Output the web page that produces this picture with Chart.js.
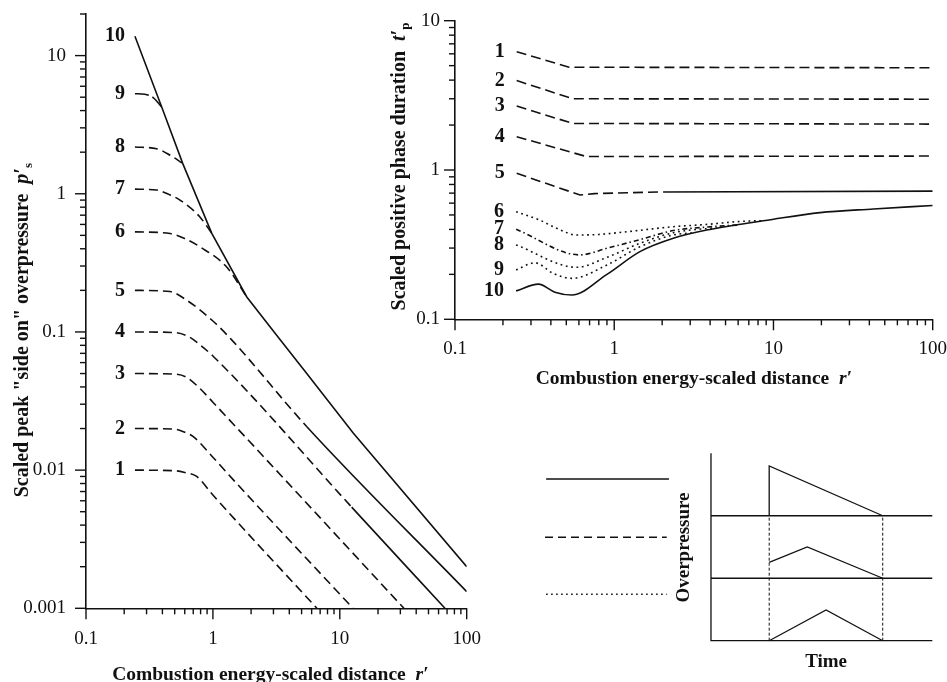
<!DOCTYPE html>
<html>
<head>
<meta charset="utf-8">
<title>Blast curves: scaled overpressure and positive phase duration</title>
<script src="https://cdn.jsdelivr.net/npm/chart.js@4.4.1/dist/chart.umd.min.js"></script>
<style>
  html, body { margin: 0; padding: 0; background: #fff; }
  #wrap { position: relative; width: 947px; height: 682px; overflow: hidden; background: #fff; }
  #wrap canvas { position: absolute; left: 0; top: 0; }
</style>
</head>
<body>
<div id="wrap">
  <canvas id="pressure" width="947" height="682"></canvas>
  <canvas id="duration" width="947" height="682"></canvas>
  <canvas id="waves" width="947" height="682"></canvas>
</div>
<script>
// ---- curve numbers (blast strength 1 = weakest ... 10 = detonation) ----
const curveNames = ['1', '2', '3', '4', '5', '6', '7', '8', '9', '10'];

// ---- scaled side-on peak overpressure p's versus scaled distance r'  [r', p's] ----
const ps1  = [[0.243, 0.01], [0.5, 0.0099], [0.6, 0.0096], [0.745, 0.009], [1.0, 0.0066], [6.6, 0.001]];
const ps2  = [[0.243, 0.02], [0.5, 0.0198], [0.6, 0.0188], [0.7, 0.0175], [1.0, 0.0124], [1.45, 0.0085], [12.7, 0.001]];
const ps3  = [[0.243, 0.05], [0.5, 0.0495], [0.62, 0.047], [0.79, 0.039], [1.0, 0.031], [32, 0.001]];
const ps4  = [[0.243, 0.1], [0.5, 0.099], [0.65, 0.092], [0.8, 0.08], [1.0, 0.067], [12.4, 0.0054], [67.4, 0.001]];
const ps5  = [[0.243, 0.2], [0.46, 0.196], [0.62, 0.17], [1.0, 0.12], [1.4, 0.088], [5.5, 0.0206], [100, 0.00132]];
const ps6  = [[0.243, 0.53], [0.46, 0.516], [0.6, 0.474], [0.79, 0.413], [1.28, 0.296], [1.85, 0.179]];
const ps7  = [[0.243, 1.08], [0.36, 1.065], [0.45, 0.99], [0.55, 0.9], [0.79, 0.68], [0.98, 0.517]];
const ps8  = [[0.243, 2.18], [0.36, 2.12], [0.46, 1.9], [0.578, 1.66]];
const ps9  = [[0.243, 5.3], [0.29, 5.25], [0.34, 4.95], [0.395, 4.25]];
const ps10 = [[0.243, 13.8], [0.395, 4.25], [0.578, 1.66], [0.98, 0.517], [1.85, 0.179], [3.18, 0.0945], [5.49, 0.05], [12.8, 0.0185], [100, 0.002]];
// distance beyond which each pressure wave has steepened into a shock (null = never)
const psShockFrom = [null, null, null, 12.4, 5.5, null, null, null, null, 0.243];

// ---- scaled positive phase duration t'p versus scaled distance r'  [r', t'p] ----
const tp1  = [[0.244, 6.2], [0.52, 4.88], [100, 4.84]];
const tp2  = [[0.244, 3.97], [0.55, 3.0], [100, 2.98]];
const tp3  = [[0.244, 2.68], [0.55, 2.05], [100, 2.03]];
const tp4  = [[0.244, 1.67], [0.67, 1.23], [100, 1.24]];
const tp5  = [[0.244, 0.95], [0.61, 0.68], [0.75, 0.695], [2.03, 0.713], [100, 0.722]];
const tp6  = [[0.242, 0.526], [0.34, 0.462], [0.435, 0.407], [0.58, 0.367], [0.8, 0.37], [1.2, 0.386], [2.35, 0.417], [3.81, 0.432], [6.17, 0.452], [8.5, 0.458]];
const tp7  = [[0.242, 0.401], [0.61, 0.27], [0.9, 0.299], [1.45, 0.342], [2.35, 0.393], [3.81, 0.415], [6, 0.428]];
const tp8  = [[0.242, 0.315], [0.58, 0.223], [0.9, 0.26], [1.45, 0.323], [2.35, 0.38], [3.81, 0.405], [4.5, 0.408]];
const tp9  = [[0.242, 0.214], [0.318, 0.239], [0.414, 0.203], [0.541, 0.188], [0.9, 0.231], [1.45, 0.306], [2.35, 0.367], [3.2, 0.38]];
const tp10 = [[0.242, 0.155], [0.334, 0.172], [0.424, 0.152], [0.541, 0.1455], [0.9, 0.2], [1.45, 0.284], [2.35, 0.349], [3.81, 0.396], [10, 0.468], [19.6, 0.518], [42.4, 0.548], [100, 0.579]];
const tpShockFrom = [null, null, null, 11.5, 2.03, null, null, null, null, 0.242];

// ---- axis tick values ----
const distTicks = [0.1, 1, 10, 100];
const psTicks = [0.001, 0.01, 0.1, 1, 10];
const tpTicks = [0.1, 1, 10];

// ---- schematic overpressure-time histories  [time, overpressure] ----
const shockWave    = [[0.263, 2], [0.263, 2.797], [0.776, 2]];
const pressureWave = [[0.263, 1.255], [0.435, 1.5], [0.776, 1]];
const weakWave     = [[0.263, 0], [0.52, 0.491], [0.776, 0]];
const waveBaselines = [2, 1];
const arrivalTimes = [0.263, 0.776];
const keyLevels = [2.588, 1.655, 0.743];   // line-style key: shock, pressure wave, weak wave

// ------------------------------------------------------------------
const SERIF = '"Liberation Serif", "Times New Roman", "DejaVu Serif", serif';
const INK = '#111';
const BX = `bold 19.5px ${SERIF}`;
const BIX = `italic bold 19.5px ${SERIF}`;
const BY = `bold 20px ${SERIF}`;
const BIY = `italic bold 20px ${SERIF}`;
const B19 = `bold 19px ${SERIF}`;
const SUB = `bold 13px ${SERIF}`;
const tickFont = { family: '"Liberation Serif", "Times New Roman", serif', size: 19 };

// draws a line of mixed-font text runs centred on (cx, baseline cy)
function drawRuns(ctx, runs, cx, cy, rot) {
  ctx.save();
  ctx.translate(cx, cy);
  ctx.rotate(rot || 0);
  ctx.fillStyle = INK;
  ctx.textAlign = 'left';
  ctx.textBaseline = 'alphabetic';
  let total = 0;
  runs.forEach(r => { ctx.font = r[1]; total += ctx.measureText(r[0]).width; });
  let x = -total / 2;
  runs.forEach(r => {
    ctx.font = r[1];
    ctx.fillText(r[0], x, r[2] || 0);
    x += ctx.measureText(r[0]).width;
  });
  ctx.restore();
}

// major and minor tick marks on the logarithmic axes
const logTicks = {
  id: 'logTicks',
  afterDraw(chart) {
    const ctx = chart.ctx;
    ctx.save();
    ctx.strokeStyle = INK;
    ctx.lineWidth = 1.4;
    Object.values(chart.scales).forEach(scale => {
      if (scale.options.type !== 'logarithmic') return;
      const lo = Math.floor(Math.log10(scale.min) + 1e-9);
      const hi = Math.floor(Math.log10(scale.max) + 1e-9);
      for (let d = lo; d <= hi; d++) {
        for (let k = 1; k <= 9; k++) {
          const v = k * Math.pow(10, d);
          if (v < scale.min * 0.9999 || v > scale.max * 1.0001) continue;
          const len = k === 1 ? 11 : 6;
          const p = scale.getPixelForValue(v);
          ctx.beginPath();
          if (scale.isHorizontal()) { ctx.moveTo(p, scale.top); ctx.lineTo(p, scale.top + len); }
          else { ctx.moveTo(scale.right, p); ctx.lineTo(scale.right - len, p); }
          ctx.stroke();
        }
      }
    });
    ctx.restore();
  }
};

// curve numbers written at the start of each curve
function curveTags(gap) {
  return {
    id: 'curveTags',
    afterDatasetsDraw(chart) {
      const ctx = chart.ctx;
      ctx.save();
      ctx.font = `bold 20px ${SERIF}`;
      ctx.fillStyle = INK;
      ctx.textAlign = 'right';
      ctx.textBaseline = 'middle';
      chart.data.datasets.forEach((ds, i) => {
        const pt = chart.getDatasetMeta(i).data[0];
        if (pt) ctx.fillText(ds.label, pt.x - gap, pt.y);
      });
      ctx.restore();
    }
  };
}

function axisTitles(specs) {
  return {
    id: 'axisTitles',
    afterDraw(chart) {
      const a = chart.chartArea;
      specs.forEach(s => {
        const p = s.place(a);
        drawRuns(chart.ctx, s.runs, p[0], p[1], s.rot);
      });
    }
  };
}

function curveSet(points, i, shockFrom, dash, smooth) {
  return {
    label: curveNames[i],
    data: points.map(([x, y]) => ({ x, y })),
    borderColor: INK,
    borderWidth: 1.6,
    pointRadius: 0,
    pointHoverRadius: 0,
    fill: false,
    tension: 0,
    cubicInterpolationMode: smooth ? 'monotone' : 'default',
    borderDash: dash,
    segment: {
      borderDash: c => (shockFrom !== null && c.p0.parsed.x >= shockFrom - 1e-9) ? [] : dash
    }
  };
}

function logAxis(min, max, ticks, padding, fit) {
  return {
    type: 'logarithmic',
    min, max,
    afterBuildTicks: s => { s.ticks = ticks.map(v => ({ value: v })); },
    afterFit: s => {
      fit(s);
      s.paddingLeft = s.paddingRight = s.paddingTop = s.paddingBottom = 0;
    },
    grid: { display: false, drawTicks: false },
    border: { display: true, color: INK, width: 1.6 },
    ticks: {
      padding, font: tickFont, color: INK,
      autoSkip: false, maxRotation: 0, minRotation: 0,
      callback: v => String(v)
    }
  };
}

const baseOptions = {
  responsive: false,
  animation: false,
  devicePixelRatio: 1,
  events: [],
  plugins: { legend: { display: false }, tooltip: { enabled: false } }
};

// ---- left: scaled peak side-on overpressure ----
// the detonation envelope (curve 10) is drawn as straight runs; the others are smoothed
const psCurves = [ps1, ps2, ps3, ps4, ps5, ps6, ps7, ps8, ps9, ps10];
new Chart(document.getElementById('pressure'), {
  type: 'line',
  data: {
    datasets: psCurves.map((pts, i) =>
      curveSet(pts, i, psShockFrom[i], i === 8 ? [14, 4] : [9, 5], i !== 9))
  },
  options: Object.assign({}, baseOptions, {
    layout: { padding: { left: 0, top: 14, right: 480.3, bottom: 0 } },
    scales: {
      x: Object.assign(logAxis(0.1, 100, distTicks, 19, s => { s.height = 73.7; }), { position: 'bottom' }),
      y: Object.assign(logAxis(0.001, 20, psTicks, 20, s => { s.width = 86; }), { position: 'left' })
    }
  }),
  plugins: [logTicks, curveTags(10), axisTitles([
    { runs: [['Combustion energy-scaled distance  ', BX], ['r\u2032', BIX]],
      place: a => [(a.left + a.right) / 2 - 6, a.bottom + 71.7], rot: 0 },
    { runs: [['Scaled peak "side on" overpressure  ', BY], ['p\u2032', BIY], ['s', SUB, 4]],
      place: a => [28.2, (a.top + a.bottom) / 2 + 19], rot: -Math.PI / 2 }
  ])]
});

// ---- top right: scaled positive phase duration ----
const tpCurves = [tp1, tp2, tp3, tp4, tp5, tp6, tp7, tp8, tp9, tp10];
const tpDash = i => i <= 4 ? [10, 5] : (i === 6 ? [5, 3, 1.5, 3] : (i === 9 ? [] : [1.8, 3.6]));
new Chart(document.getElementById('duration'), {
  type: 'line',
  data: {
    datasets: tpCurves.map((pts, i) => curveSet(pts, i, tpShockFrom[i], tpDash(i), i >= 5))
  },
  options: Object.assign({}, baseOptions, {
    layout: { padding: { left: 355, top: 20.7, right: 14.3, bottom: 280 } },
    scales: {
      x: Object.assign(logAxis(0.1, 100, distTicks, 18, s => { s.height = 82.7; }), { position: 'bottom' }),
      y: Object.assign(logAxis(0.1, 10, tpTicks, 15, s => { s.width = 100; }), { position: 'left' })
    }
  }),
  plugins: [logTicks, curveTags(12), axisTitles([
    { runs: [['Combustion energy-scaled distance  ', BX], ['r\u2032', BIX]],
      place: a => [(a.left + a.right) / 2, a.bottom + 64.7], rot: 0 },
    { runs: [['Scaled positive phase duration  ', BY], ['t\u2032', BIY], ['p', SUB, 4]],
      place: a => [404.9, (a.top + a.bottom) / 2 - 3.5], rot: -Math.PI / 2 }
  ])]
});

// ---- bottom right: wave shapes and their line-style key ----
function plainLine(points, dash, width) {
  return {
    data: points.map(([x, y]) => ({ x, y })),
    borderColor: INK, borderWidth: width || 1.3, borderDash: dash || [],
    pointRadius: 0, pointHoverRadius: 0, fill: false, tension: 0, clip: false
  };
}
const waveSets = [
  plainLine([[0, 3], [0, 0], [1, 0]]),
  ...waveBaselines.map(b => plainLine([[0, b], [1, b]])),
  ...arrivalTimes.map(t => plainLine([[t, 0], [t, 2]], [3, 2], 1)),
  plainLine(shockWave),
  plainLine(pressureWave),
  plainLine(weakWave),
  plainLine([[-0.745, keyLevels[0]], [-0.19, keyLevels[0]]], [], 1.6),
  plainLine([[-0.75, keyLevels[1]], [-0.2, keyLevels[1]]], [8, 5], 1.6),
  plainLine([[-0.745, keyLevels[2]], [-0.2, keyLevels[2]]], [1.6, 3.4], 1.6)
];
const waveText = {
  id: 'waveText',
  afterDraw(chart) {
    const { x, y } = chart.scales;
    drawRuns(chart.ctx, [['Overpressure', B19]], x.getPixelForValue(-0.0994), y.getPixelForValue(1.492), -Math.PI / 2);
    drawRuns(chart.ctx, [['Time', B19]], x.getPixelForValue(0.52), chart.chartArea.bottom + 26, 0);
  }
};
new Chart(document.getElementById('waves'), {
  type: 'line',
  data: { datasets: waveSets },
  options: Object.assign({}, baseOptions, {
    layout: { padding: { left: 545, top: 453.3, right: 14.7, bottom: 41.3 } },
    scales: {
      x: { type: 'linear', min: -0.75, max: 1, display: false },
      y: { type: 'linear', min: 0, max: 3, display: false }
    }
  }),
  plugins: [waveText]
});
</script>
</body>
</html>
